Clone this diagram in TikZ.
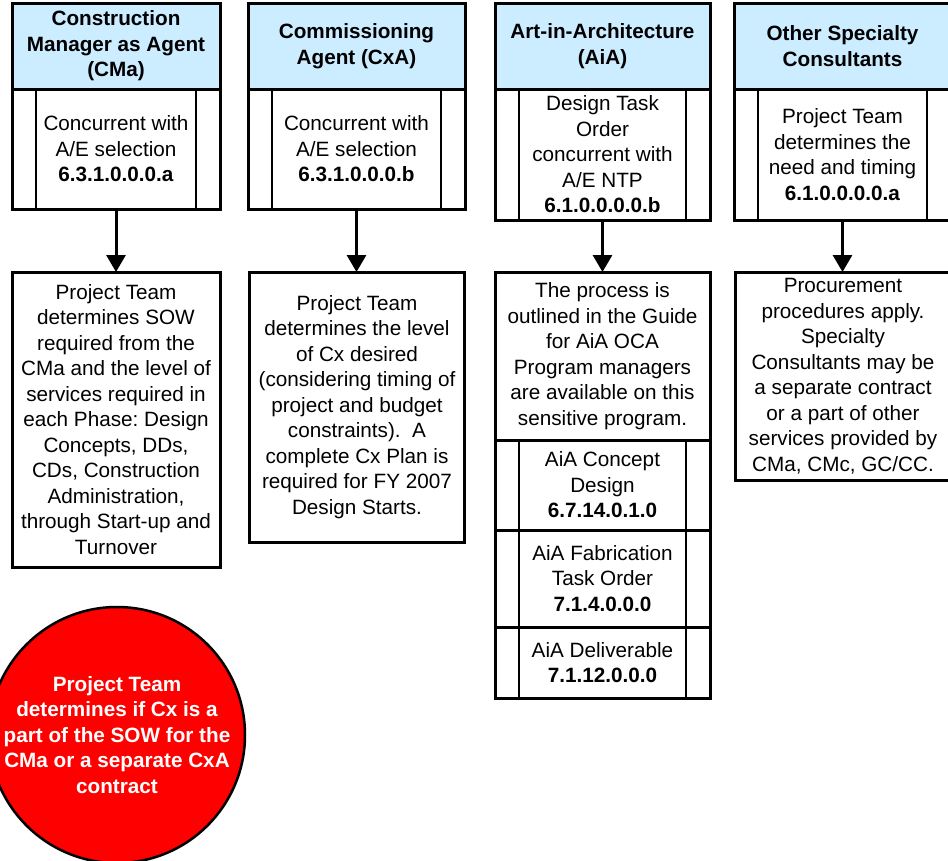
\documentclass[tikz,border=0pt]{standalone}
\usepackage{fontspec}
\setmainfont{Liberation Sans}
\usetikzlibrary{arrows.meta}
\definecolor{headblue}{RGB}{204,236,255}
\frenchspacing
\begin{document}
\begin{tikzpicture}[x=1pt,y=-1pt,
  box/.style={draw=black, line width=3pt, rectangle, inner sep=0pt, outer sep=0pt, align=center,
    font=\fontsize{20.7}{25.5}\selectfont\frenchspacing},
  head/.style={box, fill=headblue, font=\fontsize{20.7}{25.5}\selectfont\bfseries},
  conn/.style={line width=3pt, -{Triangle[width=19pt,length=17pt]}},
  inner/.style={line width=2.5pt},
  bubble/.style={circle, fill=red, draw=black, line width=2.5pt, inner sep=0pt, minimum size=256pt,
    text=white, align=center, font=\fontsize{20.7}{25.5}\selectfont\bfseries}]
\clip (0,0) rectangle (948,860);
\fill[white] (0,0) rectangle (948,860);

% column 1
\node[box, minimum width=208pt, minimum height=120pt] (p1) at (116,149) {Concurrent with\\A/E selection\\\textbf{6.3.1.0.0.0.a}};
\node[head, minimum width=208pt, minimum height=86pt] (h1) at (116,46) {Construction\\Manager as Agent\\(CMa)};
\node[box, minimum width=208pt, minimum height=295pt] (l1) at (116,419.5) {Project Team\\determines SOW\\required from the\\CMa and the level of\\services required in\\each Phase: Design\\Concepts, DDs,\\CDs, Construction\\Administration,\\through Start-up and\\Turnover};

% column 2
\node[box, minimum width=217pt, minimum height=120pt] (p2) at (356.5,149) {Concurrent with\\A/E selection\\\textbf{6.3.1.0.0.0.b}};
\node[head, minimum width=217pt, minimum height=86pt] (h2) at (356.5,46) {Commissioning\\Agent (CxA)};
\node[box, minimum width=215pt, minimum height=270pt] (l2) at (357,407) {Project Team\\determines the level\\of Cx desired\\(considering timing of\\project and budget\\constraints).\ \ A\\complete Cx Plan is\\required for FY 2007\\Design Starts.};

% column 3
\node[box, minimum width=215pt, minimum height=131pt] (p3) at (602.5,154.5) {Design Task\\Order\\concurrent with\\A/E NTP\\\textbf{6.1.0.0.0.0.b}};
\node[head, minimum width=215pt, minimum height=86pt] (h3) at (602.5,46) {Art-in-Architecture\\(AiA)};
\node[box, minimum width=215pt, minimum height=168pt] (l3) at (602.5,356) {The process is\\outlined in the Guide\\for AiA OCA\\Program managers\\are available on this\\sensitive program.};
\node[box, minimum width=215pt, minimum height=90pt] (s1) at (602.5,485) {AiA Concept\\Design\\\textbf{6.7.14.0.1.0}};
\node[box, minimum width=215pt, minimum height=97pt] (s2) at (602.5,578.5) {AiA Fabrication\\Task Order\\\textbf{7.1.4.0.0.0}};
\node[box, minimum width=215pt, minimum height=71pt] (s3) at (602.5,662.5) {AiA Deliverable\\\textbf{7.1.12.0.0.0}};

% column 4
\node[box, minimum width=217pt, minimum height=131pt] (p4) at (842.5,154.5) {Project Team\\determines the\\need and timing\\\textbf{6.1.0.0.0.0.a}};
\node[head, minimum width=217pt, minimum height=86pt] (h4) at (842.5,46) {Other Specialty\\Consultants};
\node[box, minimum width=216pt, minimum height=208pt] (l4) at (843,376) {Procurement\\procedures apply.\\Specialty\\Consultants may be\\a separate contract\\or a part of other\\services provided by\\CMa, CMc, GC/CC.};

% inner vertical lines of predefined-process boxes
\foreach \n in {p1,p2,p3,p4,s1,s2,s3}{
  \draw[inner] ([xshift=24pt]\n.north west) -- ([xshift=24pt]\n.south west);
  \draw[inner] ([xshift=-24pt]\n.north east) -- ([xshift=-24pt]\n.south east);
}

% connectors
\draw[conn] (p1) -- (l1);
\draw[conn] (p2.south) -- (p2.south |- l2.north);
\draw[conn] (p3) -- (l3);
\draw[conn] (p4.south) -- (p4.south |- l4.north);

% red circle
\node[bubble] (c1) at (117,735) {Project Team\\determines if Cx is a\\part of the SOW for the\\CMa or a separate CxA\\contract};
\end{tikzpicture}
\end{document}
